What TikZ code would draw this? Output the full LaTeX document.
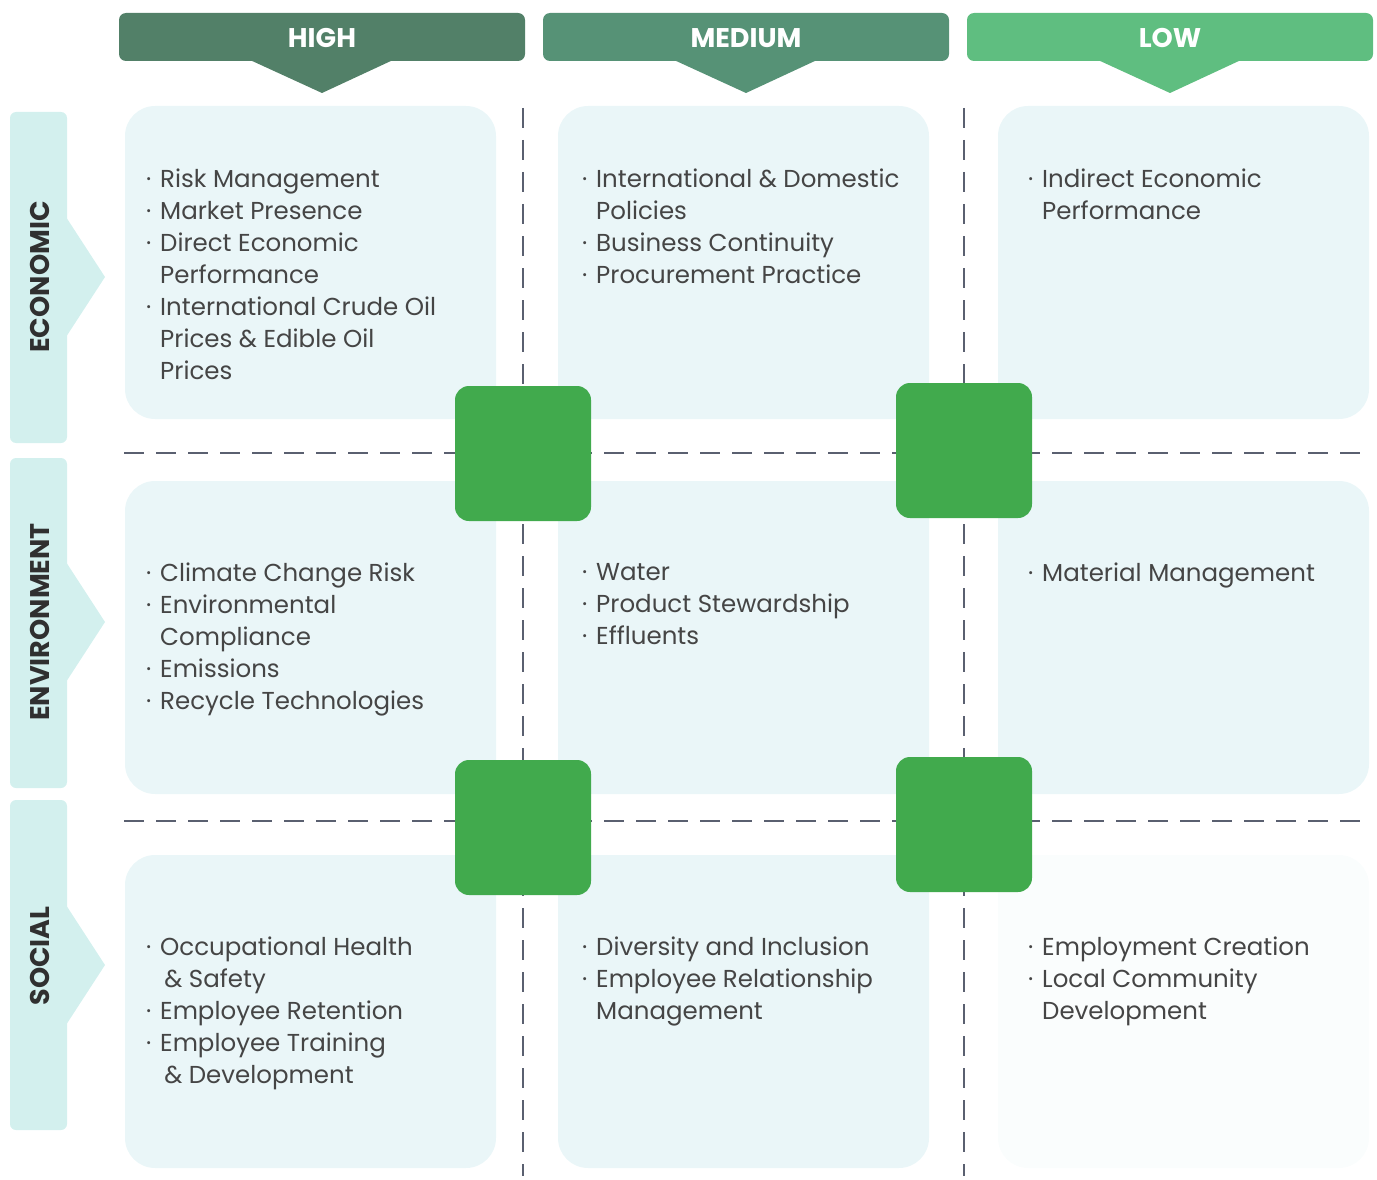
\documentclass[tikz,border=0pt]{standalone}
\usepackage{fontspec}
\setmainfont{Poppins}
\usetikzlibrary{positioning}
\definecolor{hdrhigh}{HTML}{528068}
\definecolor{hdrmed}{HTML}{569276}
\definecolor{hdrlow}{HTML}{5FBE80}
\definecolor{rowbg}{HTML}{D3F0EE}
\definecolor{cellbg}{HTML}{EAF6F8}
\definecolor{cellpale}{HTML}{FAFDFD}
\definecolor{sqgreen}{HTML}{41AA4D}
\definecolor{gridgray}{HTML}{5A6070}
\definecolor{txtgray}{HTML}{454545}
\newcommand\bul{\makebox[14pt][l]{·}}
\newcommand\ind{\hspace*{14pt}}
\tikzset{
	hdrtext/.style={text=white, font={\fontsize{27}{30}\selectfont\bfseries}},
	rowtext/.style={text=txtgray!70!black, rotate=90, font={\fontsize{27}{30}\selectfont\bfseries}},
	celltext/.style={anchor=north west, inner sep=0pt, align=left, text=txtgray, font={\fontsize{24.5}{32}\selectfont}},
	gridline/.style={gridgray, line width=2.4pt, dash pattern=on 20pt off 12pt},
	corner/.style={fill=sqgreen, rounded corners=14pt}
}
\begin{document}
\begin{tikzpicture}[x=1pt, y=-1pt]
	\useasboundingbox (0,0) rectangle (1377,1180);
	% column headers
	\fill[hdrhigh, rounded corners=7pt] (119,13) rectangle (525,61);
	\fill[hdrhigh] (250,60) -- (393,60) -- (322,93) -- cycle;
	\node[hdrtext] (high) at (322,38) {HIGH};
	\fill[hdrmed, rounded corners=7pt] (543,13) rectangle (949,61);
	\fill[hdrmed] (674,60) -- (817,60) -- (746,93) -- cycle;
	\node[hdrtext] (medium) at (746,38) {MEDIUM};
	\fill[hdrlow, rounded corners=7pt] (967,13) rectangle (1373,61);
	\fill[hdrlow] (1098,60) -- (1241,60) -- (1170,93) -- cycle;
	\node[hdrtext] (low) at (1170,38) {LOW};
	% row labels
	\fill[rowbg, rounded corners=6pt] (10,112) rectangle (67,443);
	\fill[rowbg] (66,217) -- (105,277) -- (66,337) -- cycle;
	\node[rowtext] (economic) at (40,277) {ECONOMIC};
	\fill[rowbg, rounded corners=6pt] (10,458) rectangle (67,788);
	\fill[rowbg] (66,562) -- (105,622) -- (66,682) -- cycle;
	\node[rowtext] (environment) at (40,622) {ENVIRONMENT};
	\fill[rowbg, rounded corners=6pt] (10,800) rectangle (67,1130);
	\fill[rowbg] (66,905) -- (105,965) -- (66,1025) -- cycle;
	\node[rowtext] (social) at (40,956) {SOCIAL};
	% cells
	\foreach \x in {125,558}
		\foreach \y in {106,481,855}
			\fill[cellbg, rounded corners=30pt] (\x,\y) rectangle ++(371,313);
	\fill[cellbg, rounded corners=30pt] (998,106) rectangle ++(371,313);
	\fill[cellbg, rounded corners=30pt] (998,481) rectangle ++(371,313);
	\fill[cellpale, rounded corners=30pt] (998,855) rectangle ++(371,313);
	% grid
	\draw[gridline] (523,108) -- (523,1176);
	\draw[gridline] (964,108) -- (964,1176);
	\draw[gridline] (124,453) -- (1366,453);
	\draw[gridline] (124,821) -- (1366,821);
	% corner squares
	\fill[corner] (455,386) rectangle (591,521);
	\fill[corner] (896,383) rectangle (1032,518);
	\fill[corner] (455,760) rectangle (591,895);
	\fill[corner] (896,757) rectangle (1032,892);
	% cell texts
	\node[celltext] (eh) at (146,169) {\bul Risk Management\\ \bul Market Presence\\ \bul Direct Economic\\ \ind Performance\\ \bul International Crude Oil\\ \ind Prices \& Edible Oil\\ \ind Prices};
	\node[celltext] (em) at (582,169) {\bul International \& Domestic\\ \ind Policies\\ \bul Business Continuity\\ \bul Procurement Practice};
	\node[celltext] (el) at (1028,169) {\bul Indirect Economic\\ \ind Performance};
	\node[celltext] (nh) at (146,563) {\bul Climate Change Risk\\ \bul Environmental\\ \ind Compliance\\ \bul Emissions\\ \bul Recycle Technologies};
	\node[celltext] (nm) at (582,563) {\bul Water\\ \bul Product Stewardship\\ \bul Effluents};
	\node[celltext] (nl) at (1028,563) {\bul Material Management};
	\node[celltext] (sh) at (146,937) {\bul Occupational Health\\ \ind\,\& Safety\\ \bul Employee Retention\\ \bul Employee Training\\ \ind\,\& Development};
	\node[celltext] (sm) at (582,937) {\bul Diversity and Inclusion\\ \bul Employee Relationship\\ \ind Management};
	\node[celltext] (sl) at (1028,937) {\bul Employment Creation\\ \bul Local Community\\ \ind Development};
\end{tikzpicture}
\end{document}
